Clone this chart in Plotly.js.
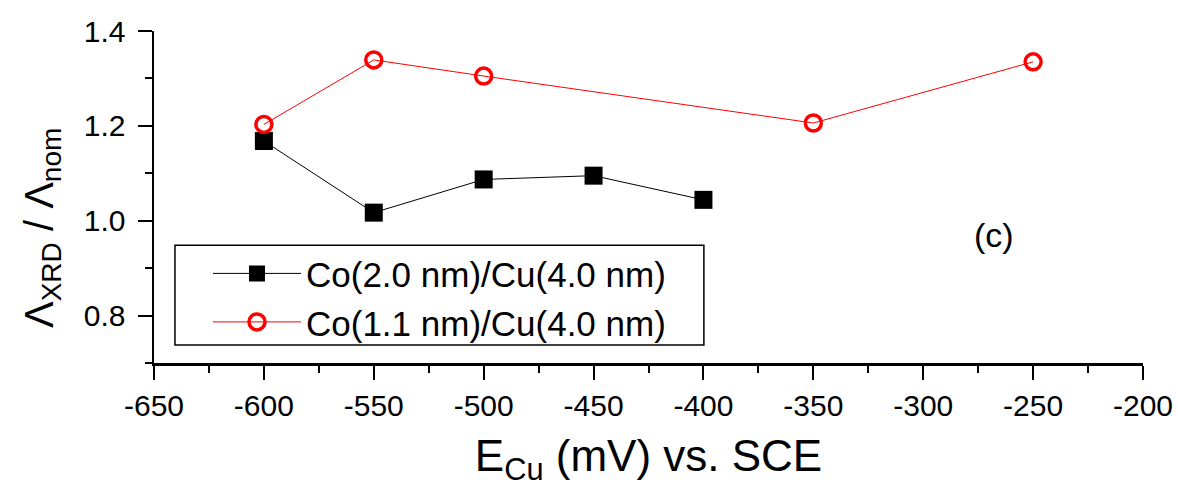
<!DOCTYPE html>
<html>
<head>
<meta charset="utf-8">
<script src="https://cdn.plot.ly/plotly-3.0.1.min.js"></script>
<style>html,body{margin:0;padding:0;background:#fff;}#chart{width:1178px;height:490px;}</style>
</head>
<body>
<div id="chart"></div>
<script>
var xBlack = [-600, -550, -500, -450, -400];
var yBlack = [1.168, 1.017, 1.087, 1.095, 1.044];
var xRed = [-600, -550, -500, -350, -250];
var yRed = [1.203, 1.339, 1.305, 1.206, 1.335];
var nameBlack = 'Co(2.0 nm)/Cu(4.0 nm)';
var nameRed = 'Co(1.1 nm)/Cu(4.0 nm)';
var xTickVals = [-650, -600, -550, -500, -450, -400, -350, -300, -250, -200];
var xTickText = ['-650', '-600', '-550', '-500', '-450', '-400', '-350', '-300', '-250', '-200'];
var yTickVals = [0.8, 1.0, 1.2, 1.4];
var yTickText = ['0.8', '1.0', '1.2', '1.4'];
var xTitle = 'E<sub>Cu</sub> (mV) vs. SCE';
var yTitle = 'Λ<sub>XRD</sub> / Λ<sub>nom</sub>';
var panelLabel = '(c)';

var font = 'Arial, "Liberation Sans", sans-serif';

var traces = [
  {x: xBlack, y: yBlack, name: nameBlack, type: 'scatter', mode: 'lines+markers',
   line: {color: '#000', width: 1},
   marker: {symbol: 'square', size: 18, color: '#000'}},
  {x: xRed, y: yRed, name: nameRed, type: 'scatter', mode: 'lines+markers',
   line: {color: '#ff0000', width: 1},
   marker: {symbol: 'circle-open', size: 16, color: '#ff0000', line: {width: 3.5, color: '#ff0000'}}}
];

var layout = {
  width: 1178, height: 490,
  margin: {l: 154, r: 35, t: 31, b: 127},
  paper_bgcolor: '#fff', plot_bgcolor: '#fff',
  font: {family: font, color: '#000'},
  showlegend: true,
  legend: {x: 0.0546, y: 0.358, xanchor: 'left', yanchor: 'top',
           borderwidth: 0, bgcolor: 'rgba(0,0,0,0)',
           font: {size: 35, family: font}, tracegroupgap: 0, itemwidth: 88},
  shapes: [
    {type: 'rect', xref: 'paper', yref: 'paper', x0: 0.0212, x1: 0.556, y0: 0.0542, y1: 0.355,
     line: {color: '#000', width: 1.5}, fillcolor: 'rgba(0,0,0,0)', layer: 'below'}
  ],
  xaxis: {range: [-650, -200], tickmode: 'array', tickvals: xTickVals, ticktext: xTickText,
          showline: true, linecolor: '#000', linewidth: 2.5,
          ticks: 'outside', ticklen: 14, tickwidth: 2, tickcolor: '#000',
          ticklabelstandoff: 0,
          showgrid: false, zeroline: false,
          tickfont: {size: 30, family: font},
          minor: {dtick: 25, tick0: -650, ticks: 'outside', ticklen: 7, tickwidth: 2, tickcolor: '#000', showgrid: false},
          title: {text: xTitle, font: {size: 44, family: font}, standoff: 20}},
  yaxis: {range: [0.7, 1.4], tickmode: 'array', tickvals: yTickVals, ticktext: yTickText,
          showline: true, linecolor: '#000', linewidth: 2.5,
          ticks: 'outside', ticklen: 14, tickwidth: 2, tickcolor: '#000',
          ticklabelstandoff: 6,
          showgrid: false, zeroline: false,
          tickfont: {size: 30, family: font},
          minor: {dtick: 0.1, tick0: 0.7, ticks: 'outside', ticklen: 7, tickwidth: 2, tickcolor: '#000', showgrid: false}},
  annotations: [
    {text: panelLabel, x: -268, y: 0.969, xref: 'x', yref: 'y', showarrow: false,
     font: {size: 34, family: font}},
    {text: yTitle, textangle: -90, x: -0.1132, y: 0.4066, xref: 'paper', yref: 'paper',
     xanchor: 'center', yanchor: 'middle', showarrow: false,
     font: {size: 40, family: font}}
  ]
};

Plotly.newPlot('chart', traces, layout, {displayModeBar: false, staticPlot: true});
</script>
</body>
</html>
